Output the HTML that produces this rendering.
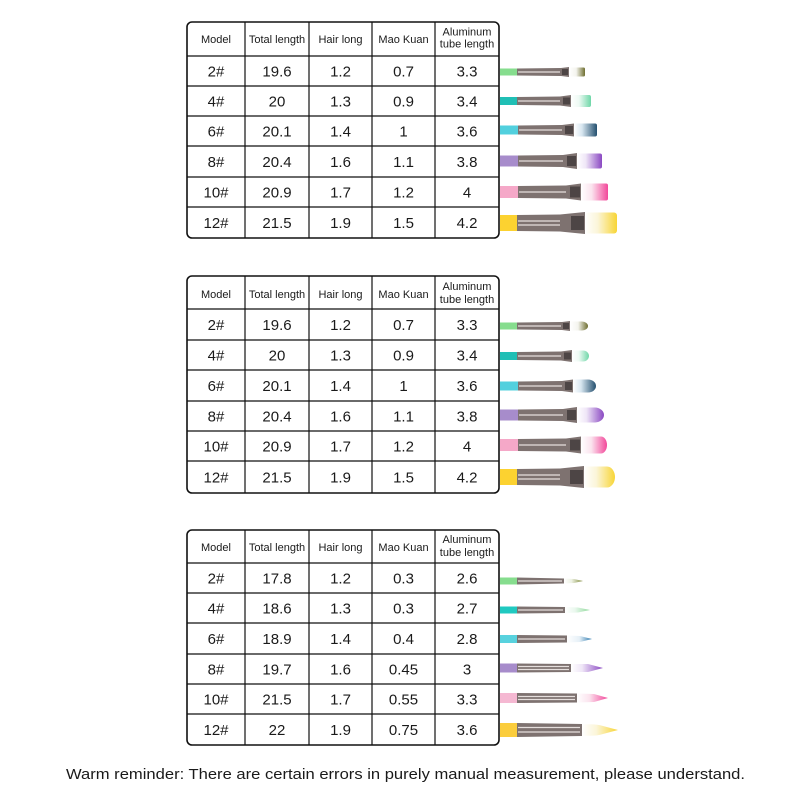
<!DOCTYPE html>
<html>
<head>
<meta charset="utf-8">
<style>
html,body{margin:0;padding:0;background:#fff;}
svg{display:block;}
text{font-family:"Liberation Sans",sans-serif;fill:#1a1a1a;}
.h{font-size:11px;text-anchor:middle;}
.v{font-size:15px;text-anchor:middle;}
.b{fill:none;stroke:#111;stroke-width:1.6;}
.l{stroke:#111;stroke-width:1.2;}
.fer{fill:#7e7270;}
.str{stroke:#e6dfdd;stroke-width:1.2;}
.sq{fill:#4d4545;}
</style>
</head>
<body>
<svg width="800" height="800" viewBox="0 0 800 800" xmlns="http://www.w3.org/2000/svg">
<defs>
<linearGradient id="g1" x1="0" x2="1" y1="0" y2="0"><stop offset="0" stop-color="#fff"/><stop offset="0.45" stop-color="#f4f4ee"/><stop offset="1" stop-color="#6e6e30"/></linearGradient>
<linearGradient id="g2" x1="0" x2="1" y1="0" y2="0"><stop offset="0" stop-color="#fff"/><stop offset="0.4" stop-color="#eefaf4"/><stop offset="1" stop-color="#6fd7a8"/></linearGradient>
<linearGradient id="g3" x1="0" x2="1" y1="0" y2="0"><stop offset="0" stop-color="#fff"/><stop offset="0.35" stop-color="#d8e6f0"/><stop offset="1" stop-color="#24506f"/></linearGradient>
<linearGradient id="g4" x1="0" x2="1" y1="0" y2="0"><stop offset="0" stop-color="#fff"/><stop offset="0.35" stop-color="#efe6f7"/><stop offset="1" stop-color="#8a48c2"/></linearGradient>
<linearGradient id="g5" x1="0" x2="1" y1="0" y2="0"><stop offset="0" stop-color="#fff"/><stop offset="0.4" stop-color="#fbe3ee"/><stop offset="1" stop-color="#f2489a"/></linearGradient>
<linearGradient id="g6" x1="0" x2="1" y1="0" y2="0"><stop offset="0" stop-color="#fff"/><stop offset="0.4" stop-color="#fbf5d8"/><stop offset="1" stop-color="#f8d535"/></linearGradient>
<linearGradient id="r1" x1="0" x2="1" y1="0" y2="0"><stop offset="0" stop-color="#fff"/><stop offset="0.4" stop-color="#eef2e4"/><stop offset="1" stop-color="#7f8a3a"/></linearGradient>
<linearGradient id="r2" x1="0" x2="1" y1="0" y2="0"><stop offset="0" stop-color="#fff"/><stop offset="0.4" stop-color="#eaf8ee"/><stop offset="1" stop-color="#8ed99a"/></linearGradient>
<linearGradient id="r3" x1="0" x2="1" y1="0" y2="0"><stop offset="0" stop-color="#fff"/><stop offset="0.5" stop-color="#e6f0f7"/><stop offset="1" stop-color="#2a78ad"/></linearGradient>
</defs>

<!-- ================= TABLE 1 ================= -->
<rect class="b" x="187" y="22" width="312" height="216" rx="5"/>
<line class="l" x1="245" y1="22" x2="245" y2="238"/>
<line class="l" x1="309" y1="22" x2="309" y2="238"/>
<line class="l" x1="372" y1="22" x2="372" y2="238"/>
<line class="l" x1="435" y1="22" x2="435" y2="238"/>
<line class="l" x1="187" y1="56" x2="499" y2="56"/>
<line class="l" x1="187" y1="86" x2="499" y2="86"/>
<line class="l" x1="187" y1="116" x2="499" y2="116"/>
<line class="l" x1="187" y1="146" x2="499" y2="146"/>
<line class="l" x1="187" y1="177" x2="499" y2="177"/>
<line class="l" x1="187" y1="207" x2="499" y2="207"/>
<text class="h" x="216" y="43">Model</text>
<text class="h" x="277" y="43">Total length</text>
<text class="h" x="340.5" y="43">Hair long</text>
<text class="h" x="403.5" y="43">Mao Kuan</text>
<text class="h" x="467" y="35.5">Aluminum</text>
<text class="h" x="467" y="47.5">tube length</text>

<text class="v" x="216" y="76.5">2#</text><text class="v" x="277" y="76.5">19.6</text><text class="v" x="340.5" y="76.5">1.2</text><text class="v" x="403.5" y="76.5">0.7</text><text class="v" x="467" y="76.5">3.3</text>
<text class="v" x="216" y="106.5">4#</text><text class="v" x="277" y="106.5">20</text><text class="v" x="340.5" y="106.5">1.3</text><text class="v" x="403.5" y="106.5">0.9</text><text class="v" x="467" y="106.5">3.4</text>
<text class="v" x="216" y="136.5">6#</text><text class="v" x="277" y="136.5">20.1</text><text class="v" x="340.5" y="136.5">1.4</text><text class="v" x="403.5" y="136.5">1</text><text class="v" x="467" y="136.5">3.6</text>
<text class="v" x="216" y="167">8#</text><text class="v" x="277" y="167">20.4</text><text class="v" x="340.5" y="167">1.6</text><text class="v" x="403.5" y="167">1.1</text><text class="v" x="467" y="167">3.8</text>
<text class="v" x="216" y="197.5">10#</text><text class="v" x="277" y="197.5">20.9</text><text class="v" x="340.5" y="197.5">1.7</text><text class="v" x="403.5" y="197.5">1.2</text><text class="v" x="467" y="197.5">4</text>
<text class="v" x="216" y="228">12#</text><text class="v" x="277" y="228">21.5</text><text class="v" x="340.5" y="228">1.9</text><text class="v" x="403.5" y="228">1.5</text><text class="v" x="467" y="228">4.2</text>

<!-- flat brushes -->
<g>
<rect x="500" y="68.5" width="17" height="7" fill="#86dd8e"/>
<polygon class="fer" points="517,68.5 561,68 569,67 569,77 561,76 517,75.5"/>
<line class="str" x1="518" y1="72" x2="560" y2="72"/>
<rect class="sq" x="562" y="69" width="6" height="6"/>
<rect x="569" y="67.5" width="16" height="9" rx="1.5" fill="url(#g1)"/>
</g>
<g>
<rect x="500" y="97" width="17" height="8" fill="#20bfb5"/>
<polygon class="fer" points="517,97 560,96.5 571,95 571,107 560,105.5 517,105"/>
<line class="str" x1="518" y1="101" x2="560" y2="101"/>
<rect class="sq" x="563" y="97.5" width="7" height="7"/>
<rect x="571" y="95" width="20" height="12" rx="2" fill="url(#g2)"/>
</g>
<g>
<rect x="500" y="125.5" width="18" height="9" fill="#52d0de"/>
<polygon class="fer" points="518,125.5 562,125 574,123.5 574,136.5 562,135 518,134.5"/>
<line class="str" x1="519" y1="130" x2="562" y2="130"/>
<rect class="sq" x="565" y="126" width="8" height="8"/>
<rect x="574" y="123.5" width="23" height="13" rx="2" fill="url(#g3)"/>
</g>
<g>
<rect x="500" y="155.5" width="18" height="11" fill="#a78ccb"/>
<polygon class="fer" points="518,155.5 563,155 577,153 577,169 563,167 518,166.5"/>
<line class="str" x1="519" y1="161" x2="563" y2="161"/>
<rect class="sq" x="567" y="156" width="9" height="10"/>
<rect x="577" y="153.5" width="25" height="15" rx="2" fill="url(#g4)"/>
</g>
<g>
<rect x="500" y="186" width="18" height="12" fill="#f5a8c8"/>
<polygon class="fer" points="518,186 566,185.5 581,183.5 581,200.5 566,198.5 518,198"/>
<line class="str" x1="519" y1="192" x2="566" y2="192"/>
<rect class="sq" x="570" y="186.5" width="10" height="11"/>
<rect x="581" y="183.5" width="27" height="17" rx="2" fill="url(#g5)"/>
</g>
<g>
<rect x="500" y="215" width="17" height="16" fill="#fcd230"/>
<polygon class="fer" points="517,215 560,214.5 585,212 585,234 560,231.5 517,231"/>
<line class="str" x1="518" y1="221" x2="560" y2="221"/>
<line class="str" x1="518" y1="225" x2="560" y2="225"/>
<rect class="sq" x="571" y="216" width="13" height="14"/>
<rect x="585" y="212.5" width="32" height="21" rx="3" fill="url(#g6)"/>
</g>

<!-- ================= TABLE 2 ================= -->
<rect class="b" x="187" y="276" width="312" height="217" rx="5"/>
<line class="l" x1="245" y1="276" x2="245" y2="493"/>
<line class="l" x1="309" y1="276" x2="309" y2="493"/>
<line class="l" x1="372" y1="276" x2="372" y2="493"/>
<line class="l" x1="435" y1="276" x2="435" y2="493"/>
<line class="l" x1="187" y1="309" x2="499" y2="309"/>
<line class="l" x1="187" y1="340" x2="499" y2="340"/>
<line class="l" x1="187" y1="370" x2="499" y2="370"/>
<line class="l" x1="187" y1="401" x2="499" y2="401"/>
<line class="l" x1="187" y1="431" x2="499" y2="431"/>
<line class="l" x1="187" y1="461" x2="499" y2="461"/>
<text class="h" x="216" y="298">Model</text>
<text class="h" x="277" y="298">Total length</text>
<text class="h" x="340.5" y="298">Hair long</text>
<text class="h" x="403.5" y="298">Mao Kuan</text>
<text class="h" x="467" y="290">Aluminum</text>
<text class="h" x="467" y="303">tube length</text>

<text class="v" x="216" y="330">2#</text><text class="v" x="277" y="330">19.6</text><text class="v" x="340.5" y="330">1.2</text><text class="v" x="403.5" y="330">0.7</text><text class="v" x="467" y="330">3.3</text>
<text class="v" x="216" y="360.5">4#</text><text class="v" x="277" y="360.5">20</text><text class="v" x="340.5" y="360.5">1.3</text><text class="v" x="403.5" y="360.5">0.9</text><text class="v" x="467" y="360.5">3.4</text>
<text class="v" x="216" y="391">6#</text><text class="v" x="277" y="391">20.1</text><text class="v" x="340.5" y="391">1.4</text><text class="v" x="403.5" y="391">1</text><text class="v" x="467" y="391">3.6</text>
<text class="v" x="216" y="421.5">8#</text><text class="v" x="277" y="421.5">20.4</text><text class="v" x="340.5" y="421.5">1.6</text><text class="v" x="403.5" y="421.5">1.1</text><text class="v" x="467" y="421.5">3.8</text>
<text class="v" x="216" y="451.5">10#</text><text class="v" x="277" y="451.5">20.9</text><text class="v" x="340.5" y="451.5">1.7</text><text class="v" x="403.5" y="451.5">1.2</text><text class="v" x="467" y="451.5">4</text>
<text class="v" x="216" y="482.5">12#</text><text class="v" x="277" y="482.5">21.5</text><text class="v" x="340.5" y="482.5">1.9</text><text class="v" x="403.5" y="482.5">1.5</text><text class="v" x="467" y="482.5">4.2</text>

<!-- filbert brushes -->
<g>
<rect x="500" y="322.5" width="17" height="7" fill="#86dd8e"/>
<polygon class="fer" points="517,322.5 562,322 570,321 570,331 562,330 517,329.5"/>
<line class="str" x1="518" y1="326" x2="561" y2="326"/>
<rect class="sq" x="563" y="323" width="6" height="6"/>
<path d="M570,321.5 H582 A6,4.5 0 0 1 582,330.5 H570 Z" fill="url(#g1)"/>
</g>
<g>
<rect x="500" y="352" width="17" height="8" fill="#20bfb5"/>
<polygon class="fer" points="517,352 561,351.5 572,350 572,362 561,360.5 517,360"/>
<line class="str" x1="518" y1="356" x2="561" y2="356"/>
<rect class="sq" x="564" y="352.5" width="7" height="7"/>
<path d="M572,350.5 H583 A6,5.5 0 0 1 583,361.5 H572 Z" fill="url(#g2)"/>
</g>
<g>
<rect x="500" y="381.5" width="18" height="9" fill="#52d0de"/>
<polygon class="fer" points="518,381.5 562,381 573,379.5 573,392.5 562,391 518,390.5"/>
<line class="str" x1="519" y1="386" x2="562" y2="386"/>
<rect class="sq" x="565" y="382" width="7" height="8"/>
<path d="M573,379.5 H588 A8,6.5 0 0 1 588,392.5 H573 Z" fill="url(#g3)"/>
</g>
<g>
<rect x="500" y="409.5" width="18" height="11" fill="#a78ccb"/>
<polygon class="fer" points="518,409.5 563,409 577,407 577,423 563,421 518,420.5"/>
<line class="str" x1="519" y1="415" x2="563" y2="415"/>
<rect class="sq" x="567" y="410" width="9" height="10"/>
<path d="M577,407.5 H595 A9,7.5 0 0 1 595,422.5 H577 Z" fill="url(#g4)"/>
</g>
<g>
<rect x="500" y="439" width="18" height="12" fill="#f5a8c8"/>
<polygon class="fer" points="518,439 566,438.5 581,436.5 581,453.5 566,451.5 518,451"/>
<line class="str" x1="519" y1="445" x2="566" y2="445"/>
<rect class="sq" x="570" y="439.5" width="10" height="11"/>
<path d="M581,436.5 H601 A6,8.5 0 0 1 601,453.5 H581 Z" fill="url(#g5)"/>
</g>
<g>
<rect x="500" y="469" width="17" height="16" fill="#fcd230"/>
<polygon class="fer" points="517,469 560,468.5 584,466 584,488 560,485.5 517,485"/>
<line class="str" x1="518" y1="475" x2="560" y2="475"/>
<line class="str" x1="518" y1="479" x2="560" y2="479"/>
<rect class="sq" x="570" y="470" width="13" height="14"/>
<path d="M584,466.5 H607 A8,10.5 0 0 1 607,487.5 H584 Z" fill="url(#g6)"/>
</g>

<!-- ================= TABLE 3 ================= -->
<rect class="b" x="187" y="530" width="312" height="215" rx="5"/>
<line class="l" x1="245" y1="530" x2="245" y2="745"/>
<line class="l" x1="309" y1="530" x2="309" y2="745"/>
<line class="l" x1="372" y1="530" x2="372" y2="745"/>
<line class="l" x1="435" y1="530" x2="435" y2="745"/>
<line class="l" x1="187" y1="563" x2="499" y2="563"/>
<line class="l" x1="187" y1="593" x2="499" y2="593"/>
<line class="l" x1="187" y1="623" x2="499" y2="623"/>
<line class="l" x1="187" y1="654" x2="499" y2="654"/>
<line class="l" x1="187" y1="684" x2="499" y2="684"/>
<line class="l" x1="187" y1="714" x2="499" y2="714"/>
<text class="h" x="216" y="551">Model</text>
<text class="h" x="277" y="551">Total length</text>
<text class="h" x="340.5" y="551">Hair long</text>
<text class="h" x="403.5" y="551">Mao Kuan</text>
<text class="h" x="467" y="543">Aluminum</text>
<text class="h" x="467" y="556">tube length</text>

<text class="v" x="216" y="583.5">2#</text><text class="v" x="277" y="583.5">17.8</text><text class="v" x="340.5" y="583.5">1.2</text><text class="v" x="403.5" y="583.5">0.3</text><text class="v" x="467" y="583.5">2.6</text>
<text class="v" x="216" y="613.5">4#</text><text class="v" x="277" y="613.5">18.6</text><text class="v" x="340.5" y="613.5">1.3</text><text class="v" x="403.5" y="613.5">0.3</text><text class="v" x="467" y="613.5">2.7</text>
<text class="v" x="216" y="644">6#</text><text class="v" x="277" y="644">18.9</text><text class="v" x="340.5" y="644">1.4</text><text class="v" x="403.5" y="644">0.4</text><text class="v" x="467" y="644">2.8</text>
<text class="v" x="216" y="674.5">8#</text><text class="v" x="277" y="674.5">19.7</text><text class="v" x="340.5" y="674.5">1.6</text><text class="v" x="403.5" y="674.5">0.45</text><text class="v" x="467" y="674.5">3</text>
<text class="v" x="216" y="704.5">10#</text><text class="v" x="277" y="704.5">21.5</text><text class="v" x="340.5" y="704.5">1.7</text><text class="v" x="403.5" y="704.5">0.55</text><text class="v" x="467" y="704.5">3.3</text>
<text class="v" x="216" y="735">12#</text><text class="v" x="277" y="735">22</text><text class="v" x="340.5" y="735">1.9</text><text class="v" x="403.5" y="735">0.75</text><text class="v" x="467" y="735">3.6</text>

<!-- round brushes -->
<g>
<rect x="500" y="577.5" width="17" height="7" fill="#86dd8e"/>
<polygon class="fer" points="517,577.5 564,578.5 564,583.5 517,584.5"/>
<line class="str" x1="518" y1="581" x2="562" y2="581"/>
<polygon points="564,578.5 574,579 583,581 574,583 564,583.5" fill="url(#r1)"/>
</g>
<g>
<rect x="500" y="606.5" width="17" height="7" fill="#20c9c0"/>
<polygon class="fer" points="517,606.5 565,607 565,613 517,613.5"/>
<line class="str" x1="518" y1="610" x2="563" y2="610"/>
<polygon points="565,607 578,607.5 590,610 578,612.5 565,613" fill="url(#r2)"/>
</g>
<g>
<rect x="500" y="635" width="17" height="8" fill="#58d2de"/>
<polygon class="fer" points="517,635 567,635.5 567,642.5 517,643"/>
<line class="str" x1="518" y1="639" x2="565" y2="639"/>
<polygon points="567,635.5 580,636 592,639 580,642 567,642.5" fill="url(#r3)"/>
</g>
<g>
<rect x="500" y="663.5" width="17" height="9" fill="#a78ccb"/>
<polygon class="fer" points="517,663.5 571,664 571,672 517,672.5"/>
<line class="str" x1="518" y1="666.5" x2="569" y2="666.5"/>
<line class="str" x1="518" y1="669.5" x2="569" y2="669.5"/>
<polygon points="571,664 588,664 603,668 588,672 571,672" fill="url(#g4)"/>
</g>
<g>
<rect x="500" y="693" width="17" height="10" fill="#f5b8d2"/>
<polygon class="fer" points="517,693 577,693.5 577,702.5 517,703"/>
<line class="str" x1="518" y1="696.5" x2="575" y2="696.5"/>
<line class="str" x1="518" y1="699.5" x2="575" y2="699.5"/>
<polygon points="577,693.5 594,694 608,698 594,702 577,702.5" fill="url(#g5)"/>
</g>
<g>
<rect x="500" y="723" width="17" height="14" fill="#fbcd3c"/>
<polygon class="fer" points="517,723 582,724 582,736 517,737"/>
<line class="str" x1="518" y1="727.5" x2="580" y2="727.5"/>
<line class="str" x1="518" y1="732" x2="580" y2="732"/>
<path d="M582,724.5 Q596,723.5 603,726 L618,730 L603,734 Q596,736.5 582,735.5 Z" fill="url(#g6)"/>
</g>

<text x="66" y="779" font-size="15" textLength="679" lengthAdjust="spacingAndGlyphs">Warm reminder: There are certain errors in purely manual measurement, please understand.</text>
</svg>
</body>
</html>
